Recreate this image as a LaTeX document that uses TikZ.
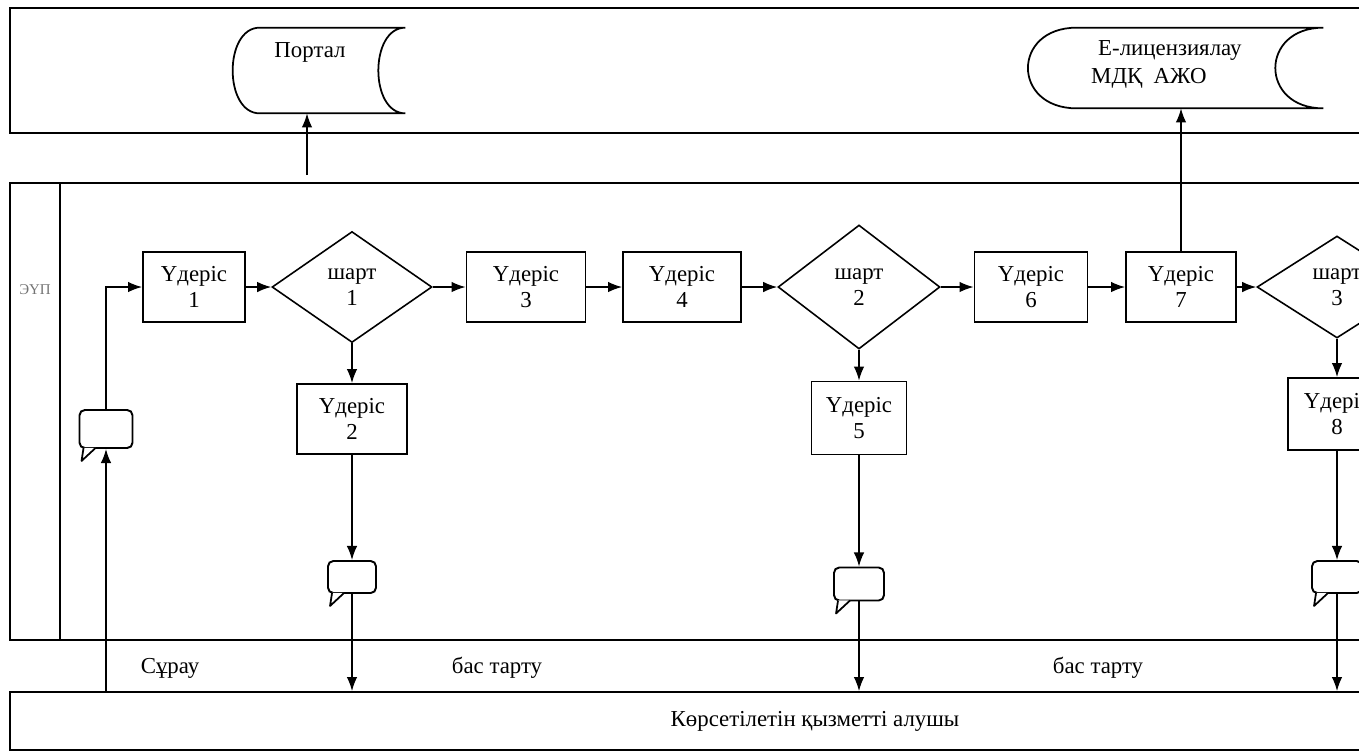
\documentclass[tikz,border=0pt]{standalone}
\usepackage{fontspec}
\setmainfont{Liberation Serif}
\usepackage{tikz}
\usetikzlibrary{shapes.geometric,arrows.meta,calc}
\tikzset{every picture/.append style={x=0.02cm,y=-0.02cm}}
\tikzset{lane/.style={line width=1pt}}
\tikzset{txt/.style={font=\fontsize{13}{15}\selectfont}}
\tikzset{proc/.style={draw, line width=1pt, align=center, inner sep=0pt, minimum height=1.4cm, txt}}
\tikzset{cond/.style={diamond, draw, line width=0.9pt, align=center, inner sep=0pt, txt}}
\tikzset{bubble/.style={draw, line width=1.1pt, rounded corners=3pt}}
\tikzset{bubbletail/.style={line width=1pt, fill=white, line join=round}}
\tikzset{flow/.style={-{Latex[length=8pt,width=6pt]}, line width=0.9pt}}
\tikzset{storeline/.style={line width=1pt}}

\begin{document}
\begin{tikzpicture}
  \useasboundingbox (0,0) rectangle (1359,752);
  \clip (0,0) rectangle (1359,752);
  % lanes
  \draw[lane] (10,8) rectangle (1420,133);
  \draw[lane] (10,183) rectangle (1420,640);
  \draw[lane] (60,183) -- (60,640);
  \node (eup) at (35,290)[font=\fontsize{8.5}{10}\selectfont, text=black!55]{ЭҮП};
  \node (recv) at (815,721)[draw, line width=1pt, minimum width=32.2cm, minimum height=1.16cm, txt]{Көрсетілетін қызметті алушы};

  % stores
  \node (portal) at (319,70.5)[minimum width=3.44cm, minimum height=1.7cm]{};
  \node (ptext) at (310,52)[txt]{Портал};
  \draw[storeline] ($(portal.north west)+(27,0)$) -- (portal.north east)
    .. controls +(-36,0) and +(-36,0) .. (portal.south east)
    -- ($(portal.south west)+(27,0)$)
    .. controls +(-36,0) and +(-36,0) .. ($(portal.north west)+(27,0)$);
  \node (elic) at (1175.5,68)[minimum width=5.9cm, minimum height=1.6cm]{};
  \node (etext) at (1085,64)[txt, anchor=west, align=left]{\hspace*{4pt}Е-лицензиялау\\[1pt]МДҚ\ \ АЖО};
  \draw[storeline] ($(elic.north west)+(49,0)$) -- (elic.north east)
    .. controls +(-64,0) and +(-64,0) .. (elic.south east)
    -- ($(elic.south west)+(49,0)$)
    .. controls +(-65,0) and +(-65,0) .. ($(elic.north west)+(49,0)$);
  \coordinate (pstart) at (307,175);

  % main row
  \node (p1) at (194,287)[proc, minimum width=2.04cm]{Үдеріс\\1};
  \node (d1) at (352,287)[cond, minimum width=3.2cm, minimum height=2.22cm]{шарт\\1};
  \node (p3) at (526,287)[proc, minimum width=2.38cm]{Үдеріс\\3};
  \node (p4) at (682,287)[proc, minimum width=2.36cm]{Үдеріс\\4};
  \node (d2) at (859,287)[cond, minimum width=3.24cm, minimum height=2.48cm]{шарт\\2};
  \node (p6) at (1031,287)[proc, minimum width=2.26cm]{Үдеріс\\6};
  \node (p7) at (1181,287)[proc, minimum width=2.2cm]{Үдеріс\\7};
  \node (d3) at (1337,287)[cond, minimum width=3.2cm, minimum height=2.04cm]{шарт\\3};

  % refusals
  \node (p2) at (352,419)[proc, minimum width=2.2cm]{Үдеріс\\2};
  \node (p5) at (859,418)[proc, minimum width=1.9cm, minimum height=1.46cm]{Үдеріс\\5};
  \node (p8) at (1337,414)[proc, minimum width=1.96cm, minimum height=1.44cm]{Үдеріс\\8};

  \node (c0) at (106,429)[bubble, minimum width=1.06cm, minimum height=0.76cm]{};
  \node (c1) at (352,577)[bubble, minimum width=0.96cm, minimum height=0.64cm]{};
  \node (c2) at (859,584)[bubble, minimum width=1cm, minimum height=0.66cm]{};
  \node (c3) at (1337,577)[bubble, minimum width=1cm, minimum height=0.64cm]{};
  \foreach \c in {c0,c1,c2,c3}
    \draw[bubbletail] ($(\c.south west)+(5,-1)$) -- ++(-2,13) -- ++(14,-13);

  \node (req) at (170,668)[txt]{Сұрау};
  \node (rej1) at (497,668)[txt]{бас тарту};
  \node (rej2) at (1098,668)[txt]{бас тарту};

  \draw[flow] (c0.south |- recv.north) -- (c0.south);
  \draw[flow] (c0.north) |- (p1.west);
  \draw[flow] (p1) -- (d1);
  \draw[flow] (d1) -- (p3);
  \draw[flow] (p3) -- (p4);
  \draw[flow] (p4) -- (d2);
  \draw[flow] (d2) -- (p6);
  \draw[flow] (p6) -- (p7);
  \draw[flow] (p7) -- (d3);
  \draw[flow] (d1) -- (p2);
  \draw[flow] (d2) -- (p5);
  \draw[flow] (d3) -- (p8);
  \draw[flow] (p2) -- (c1);
  \draw[flow] (p5) -- (c2);
  \draw[flow] (p8) -- (c3);
  \draw[flow] (c1.south) -- (c1.south |- recv.north);
  \draw[flow] (c2.south) -- (c2.south |- recv.north);
  \draw[flow] (c3.south) -- (c3.south |- recv.north);
  \draw[flow] (pstart) -- (pstart |- portal.south);
  \draw[flow] (p7) -- (p7.north |- elic.south);
\end{tikzpicture}
\end{document}
